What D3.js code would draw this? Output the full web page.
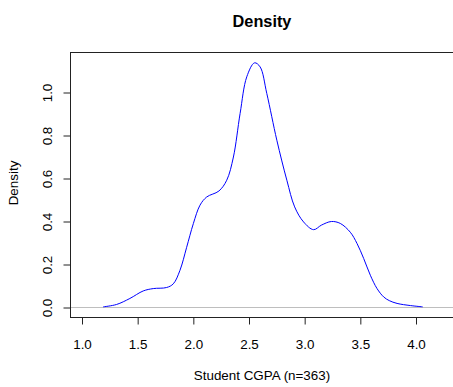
<!DOCTYPE html>
<html><head><meta charset="utf-8">
<script src="https://cdn.jsdelivr.net/npm/d3@7"></script>
<style>
html,body{margin:0;padding:0;background:#fff;}
svg{display:block;}
text{font-family:"Liberation Sans",Arial,sans-serif;fill:#000;}
</style></head>
<body>
<svg id="chart" width="453" height="387"></svg>
<script>
const gpa = [1.19, 1.31, 1.43, 1.55, 1.64, 1.76, 1.82, 1.88, 1.94, 2.00, 2.06, 2.12, 2.23, 2.30, 2.36, 2.42, 2.48, 2.55, 2.60, 2.66, 2.75, 2.84, 2.91, 2.99, 3.08, 3.15, 3.24, 3.32, 3.41, 3.47, 3.53, 3.59, 3.65, 3.71, 3.76, 3.83, 3.95, 4.06];
const density = [0.003, 0.014, 0.042, 0.077, 0.088, 0.093, 0.110, 0.173, 0.280, 0.390, 0.476, 0.514, 0.542, 0.592, 0.700, 0.902, 1.073, 1.138, 1.119, 0.995, 0.778, 0.592, 0.468, 0.398, 0.362, 0.383, 0.400, 0.391, 0.350, 0.298, 0.228, 0.150, 0.088, 0.049, 0.032, 0.019, 0.009, 0.003];
const xTicks = [1.0, 1.5, 2.0, 2.5, 3.0, 3.5, 4.0];
const yTicks = [0.0, 0.2, 0.4, 0.6, 0.8, 1.0];
const titleText = "Density";
const xLabel = "Student CGPA (n=363)";
const yLabel = "Density";

const svg = d3.select("#chart");
const box = {left: 70.5, top: 52.5, right: 453.5, bottom: 317.5};
const x = d3.scaleLinear().domain([1, 4]).range([82, 416]);
const y = d3.scaleLinear().domain([0, 1]).range([307.5, 92.5]);

// zero reference line
svg.append("line")
  .attr("x1", box.left).attr("x2", box.right)
  .attr("y1", y(0)).attr("y2", y(0))
  .attr("stroke", "#bebebe").attr("stroke-width", 1);

// density curve
const pts = gpa.map((g, i) => [g, density[i]]);
svg.append("path")
  .datum(pts)
  .attr("fill", "none")
  .attr("stroke", "#0000ff")
  .attr("stroke-width", 1)
  .attr("d", d3.line().x(d => x(d[0])).y(d => y(d[1])).curve(d3.curveCatmullRom.alpha(0.5)));

// box
svg.append("rect")
  .attr("x", box.left).attr("y", box.top)
  .attr("width", box.right - box.left).attr("height", box.bottom - box.top)
  .attr("fill", "none").attr("stroke", "#222").attr("stroke-width", 1);

// x axis
const xAxis = d3.axisBottom(x).tickValues(xTicks).tickSize(7).tickPadding(5).tickFormat(d3.format(".1f"));
const gx = svg.append("g").attr("transform", `translate(0,${box.bottom})`).call(xAxis);
gx.select(".domain").remove();
gx.selectAll(".tick line").attr("stroke", "#222");
gx.selectAll(".tick text")
  .attr("font-size", "13.4px")
  .attr("font-family", "Liberation Sans, Arial, sans-serif")
  .attr("fill", "#000")
  .attr("dy", null)
  .attr("y", 348.5 - box.bottom);

// y axis
const yAxis = d3.axisLeft(y).tickValues(yTicks).tickSize(7).tickFormat(d3.format(".1f"));
const gy = svg.append("g").attr("transform", `translate(${box.left},0)`).call(yAxis);
gy.select(".domain").remove();
gy.selectAll(".tick line").attr("stroke", "#222");
gy.selectAll(".tick text")
  .attr("font-size", "13.4px")
  .attr("font-family", "Liberation Sans, Arial, sans-serif")
  .attr("fill", "#000")
  .attr("x", null).attr("dy", null)
  .attr("text-anchor", "middle")
  .attr("transform", `translate(${52 - box.left},0) rotate(-90)`);

// title
svg.append("text")
  .attr("x", 262).attr("y", 26.5)
  .attr("text-anchor", "middle")
  .attr("font-size", "16.3px").attr("font-weight", "bold")
  .text(titleText);

// x label
svg.append("text")
  .attr("x", 262).attr("y", 380)
  .attr("text-anchor", "middle")
  .attr("font-size", "13.4px")
  .text(xLabel);

// y label
svg.append("text")
  .attr("transform", "translate(18.3,183) rotate(-90)")
  .attr("text-anchor", "middle")
  .attr("font-size", "13.4px")
  .text(yLabel);
</script>
</body></html>
